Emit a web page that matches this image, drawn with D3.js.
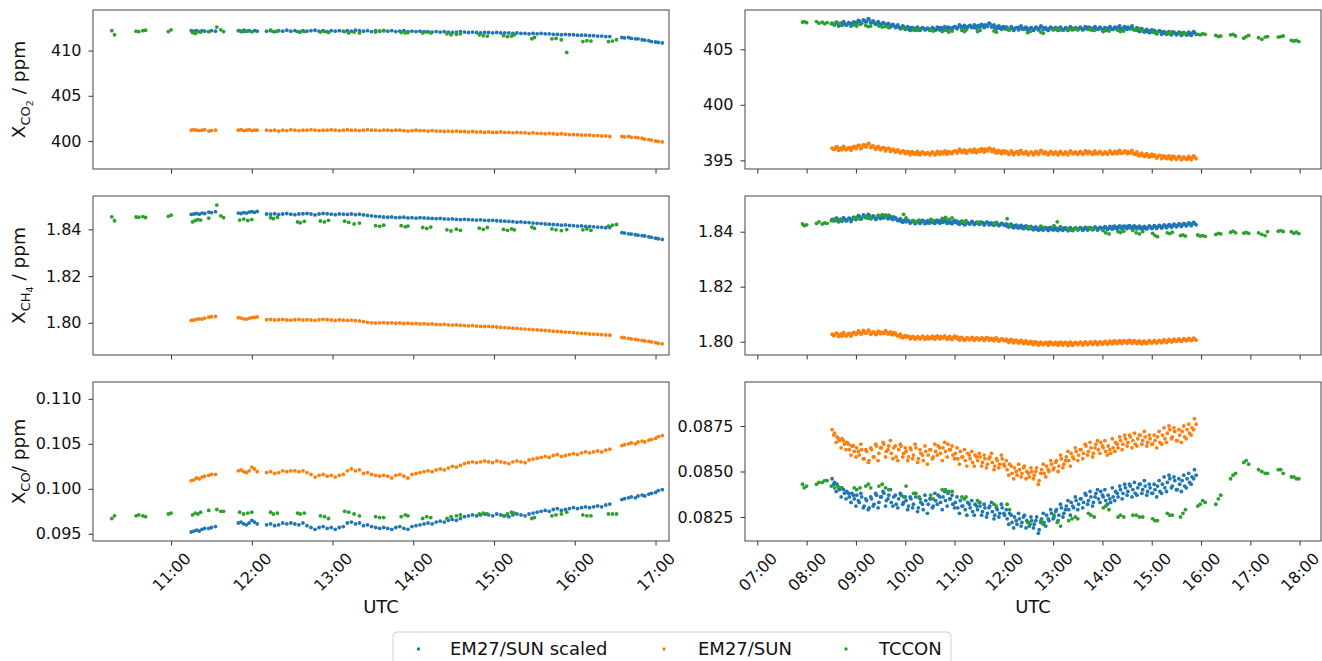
<!DOCTYPE html>
<html>
<head>
<meta charset="utf-8">
<script src="https://cdn.jsdelivr.net/npm/d3@7"></script>
<style>
  body { margin: 0; background: #fff; }
  svg { font-family: "DejaVu Sans", sans-serif; }
</style>
</head>
<body>
<svg id="chart" width="1322" height="661"></svg>
<script>
// ---------------------------------------------------------------------------
// DATA  (times are minutes after 00:00 UTC, gas values in ppm)
// ---------------------------------------------------------------------------
const legendLabels = ["EM27/SUN scaled", "EM27/SUN", "TCCON"];

// left day: EM27/SUN measurement times
const emTimesL = [
  675,677,679,681,683,685,688,690,693,
  710,712,714,716,718,720,722,724,
  731,734,737,740,743,746,749,752,755,758,
  761,764,767,770,773,776,779,782,785,788,
  791,794,797,800,803,806,809,812,815,818,
  821,824,827,830,833,836,839,842,845,848,
  851,854,857,860,863,866,869,872,875,878,
  881,884,887,890,893,896,899,902,905,908,
  911,914,917,920,923,926,929,932,935,938,
  941,944,947,950,953,956,959,962,965,968,
  971,974,977,980,983,986,
  995,997,1000,1002,1005,1007,1010,1012,1015,1017,1020,1022,1025
];
// left day: TCCON times
const tcTimesL = [
  616,618, 634,636,639,641, 658,660, 676,678,680,682, 688,694,697,699,
  711,714,717,720, 734,736,739, 754,756,759, 771,774,777, 789,792,796,800,
  812,815,818, 831,834,836, 847,850,853, 865,868,872,875, 889,892,895,
  907,910,913,915, 928,930, 943,946,950,954, 966,969,972, 985,988,991
];

const co2ScaledL = [
  412.2,412.15,412.2,412.1,412.2,412.15,412.1,412.2,412.15,
  412.2,412.1,412.25,412.15,412.2,412.1,412.2,412.15,
  412.15,412.2,412.1,412.2,412.15,412.25,412.15,412.2,412.1,412.2,
  412.15,412.2,412.25,412.15,412.2,412.1,412.2,412.15,412.2,412.15,
  412.2,412.15,412.25,412.2,412.15,412.2,412.1,412.2,412.15,412.2,
  412.15,412.2,412.1,412.15,412.2,412.1,412.15,412.1,412.15,412.1,
  412.1,412.05,412.1,412.05,412.1,412.05,412.0,412.05,412.1,412.05,
  412.0,412.05,412.0,411.95,412.0,412.0,411.95,412.0,411.95,411.95,
  411.95,411.9,411.95,411.9,411.9,411.85,411.9,411.85,411.9,411.85,
  411.85,411.8,411.8,411.75,411.8,411.75,411.75,411.7,411.7,411.7,
  411.65,411.65,411.6,411.6,411.55,411.55,
  411.45,411.4,411.45,411.35,411.3,411.3,411.2,411.15,411.1,411.0,410.95,410.9,410.85
];
const co2RawL = [
  401.2,401.25,401.2,401.15,401.2,401.25,401.1,401.15,401.2,
  401.2,401.25,401.15,401.2,401.25,401.15,401.2,401.2,
  401.2,401.15,401.2,401.1,401.2,401.15,401.25,401.2,401.15,401.2,
  401.2,401.25,401.2,401.15,401.2,401.2,401.25,401.2,401.15,401.2,
  401.25,401.2,401.2,401.15,401.2,401.25,401.2,401.2,401.15,401.2,
  401.2,401.15,401.2,401.2,401.15,401.1,401.15,401.2,401.15,401.15,
  401.1,401.15,401.1,401.1,401.05,401.1,401.05,401.1,401.05,401.05,
  401.0,401.05,401.0,401.0,400.95,401.0,400.95,400.95,401.0,400.95,
  400.95,400.9,400.95,400.9,400.9,400.85,400.9,400.85,400.85,400.8,
  400.85,400.8,400.75,400.8,400.75,400.7,400.7,400.7,400.65,400.65,
  400.65,400.6,400.6,400.55,400.55,400.5,
  400.5,400.45,400.5,400.4,400.4,400.35,400.3,400.2,400.15,400.1,400.0,399.95,399.9
];
const co2TcconL = [
  412.2,411.75, 412.15,412.1,412.2,412.25, 412.1,412.3, 412.0,411.9,412.1,412.05,
  412.1,412.6,412.3,412.1, 412.2,412.1,412.15,412.1, 412.25,412.1,412.15,
  412.1,412.05,412.1, 412.05,412.1,412.0, 412.1,411.95,412.05,411.95,
  412.05,412.15,412.2, 412.0,411.95,412.0, 411.95,412.05,411.95,
  411.85,411.75,411.8,411.85, 411.75,411.65,411.6, 411.65,411.55,411.6,411.75,
  411.3,411.45, 411.3,411.35,411.2,409.8, 411.0,411.1,411.05, 411.0,411.05,411.2
];

const ch4ScaledL = [
  1.8464,1.8466,1.8468,1.8465,1.8470,1.8468,1.8474,1.8472,1.8476,
  1.8470,1.8468,1.8472,1.8470,1.8474,1.8476,1.8473,1.8477,
  1.8466,1.8465,1.8467,1.8464,1.8466,1.8468,1.8465,1.8463,1.8466,1.8467,
  1.8468,1.8466,1.8462,1.8466,1.8468,1.8467,1.8465,1.8463,1.8466,1.8465,
  1.8464,1.8466,1.8463,1.8465,1.8462,1.8460,1.8458,1.8456,1.8455,1.8453,
  1.8452,1.8453,1.8450,1.8451,1.8452,1.8449,1.8450,1.8448,1.8450,1.8449,
  1.8448,1.8447,1.8446,1.8447,1.8445,1.8444,1.8445,1.8443,1.8442,1.8443,
  1.8442,1.8441,1.8440,1.8441,1.8439,1.8438,1.8439,1.8437,1.8436,1.8435,
  1.8434,1.8433,1.8431,1.8432,1.8430,1.8429,1.8427,1.8426,1.8425,1.8423,
  1.8422,1.8421,1.8420,1.8418,1.8419,1.8417,1.8416,1.8414,1.8415,1.8413,
  1.8412,1.8411,1.8410,1.8409,1.8407,1.8408,
  1.8386,1.8384,1.8381,1.8380,1.8377,1.8375,1.8373,1.8372,1.8368,1.8366,1.8362,1.8360,1.8357
];
const ch4RawL = [
  1.8010,1.8012,1.8015,1.8017,1.8016,1.8020,1.8024,1.8026,1.8027,
  1.8022,1.8020,1.8017,1.8016,1.8019,1.8022,1.8023,1.8025,
  1.8013,1.8014,1.8012,1.8013,1.8014,1.8012,1.8011,1.8013,1.8014,1.8012,
  1.8013,1.8012,1.8010,1.8013,1.8015,1.8013,1.8012,1.8010,1.8013,1.8011,
  1.8010,1.8011,1.8009,1.8008,1.8005,1.8002,1.8000,1.7999,1.8000,1.8001,
  1.7999,1.8000,1.7998,1.7999,1.7997,1.7998,1.7996,1.7997,1.7995,1.7996,
  1.7994,1.7995,1.7993,1.7992,1.7993,1.7991,1.7990,1.7991,1.7989,1.7988,
  1.7987,1.7988,1.7986,1.7985,1.7984,1.7985,1.7983,1.7982,1.7980,1.7979,
  1.7978,1.7977,1.7976,1.7974,1.7973,1.7972,1.7971,1.7970,1.7968,1.7967,
  1.7966,1.7964,1.7963,1.7962,1.7960,1.7959,1.7958,1.7956,1.7955,1.7954,
  1.7952,1.7951,1.7950,1.7949,1.7948,1.7947,
  1.7937,1.7935,1.7933,1.7931,1.7929,1.7927,1.7925,1.7922,1.7920,1.7918,1.7915,1.7912,1.7910
];
const ch4TcconL = [
  1.8454,1.8437, 1.8453,1.8452,1.8455,1.8451, 1.8456,1.8461, 1.8432,1.8438,1.8442,1.8440,
  1.8448,1.8504,1.8458,1.8450, 1.8440,1.8444,1.8438,1.8442, 1.8450,1.8446,1.8452,
  1.8432,1.8428,1.8434, 1.8436,1.8432,1.8439, 1.8435,1.8430,1.8423,1.8427,
  1.8416,1.8413,1.8418, 1.8416,1.8411,1.8414, 1.8408,1.8404,1.8410,
  1.8398,1.8393,1.8401,1.8396, 1.8405,1.8400,1.8408, 1.8400,1.8396,1.8402,1.8398,
  1.8410,1.8404, 1.8402,1.8398,1.8395,1.8399, 1.8398,1.8402,1.8396, 1.8414,1.8418,1.8421
];

const coScaledL = [
  0.0952,0.0953,0.0954,0.0953,0.0955,0.0956,0.0956,0.0957,0.0958,
  0.0962,0.0963,0.0961,0.0960,0.0962,0.0965,0.0963,0.0961,
  0.0960,0.0961,0.0959,0.0960,0.0962,0.0961,0.0962,0.0961,0.0960,0.0962,
  0.0959,0.0957,0.0955,0.0957,0.0958,0.0956,0.0957,0.0955,0.0957,0.0958,
  0.0962,0.0963,0.0961,0.0962,0.0959,0.0960,0.0958,0.0957,0.0956,0.0957,
  0.0956,0.0955,0.0957,0.0958,0.0956,0.0955,0.0958,0.0959,0.0960,0.0961,
  0.0962,0.0961,0.0963,0.0964,0.0963,0.0965,0.0966,0.0965,0.0967,0.0969,
  0.0970,0.0971,0.0970,0.0971,0.0972,0.0971,0.0970,0.0972,0.0971,0.0970,
  0.0969,0.0971,0.0972,0.0971,0.0970,0.0972,0.0973,0.0974,0.0975,0.0976,
  0.0975,0.0977,0.0978,0.0976,0.0977,0.0978,0.0979,0.0978,0.0979,0.0980,
  0.0979,0.0980,0.0981,0.0980,0.0982,0.0983,
  0.0988,0.0989,0.0990,0.0991,0.0990,0.0992,0.0993,0.0992,0.0994,0.0995,0.0996,0.0998,0.0999
];
const coRawL = [
  0.1009,0.1010,0.1012,0.1011,0.1013,0.1014,0.1015,0.1016,0.1016,
  0.1020,0.1021,0.1019,0.1018,0.1020,0.1024,0.1022,0.1019,
  0.1018,0.1019,0.1017,0.1018,0.1020,0.1019,0.1020,0.1020,0.1019,0.1020,
  0.1018,0.1016,0.1013,0.1015,0.1016,0.1014,0.1015,0.1013,0.1015,0.1016,
  0.1020,0.1022,0.1020,0.1021,0.1017,0.1018,0.1016,0.1015,0.1014,0.1015,
  0.1014,0.1012,0.1015,0.1016,0.1014,0.1012,0.1016,0.1017,0.1018,0.1019,
  0.1020,0.1019,0.1021,0.1022,0.1021,0.1023,0.1025,0.1024,0.1026,0.1028,
  0.1029,0.1030,0.1029,0.1030,0.1031,0.1030,0.1029,0.1031,0.1030,0.1029,
  0.1028,0.1030,0.1031,0.1030,0.1029,0.1032,0.1033,0.1034,0.1035,0.1036,
  0.1035,0.1037,0.1038,0.1036,0.1037,0.1038,0.1039,0.1038,0.1040,0.1041,
  0.1040,0.1041,0.1042,0.1041,0.1043,0.1044,
  0.1048,0.1049,0.1050,0.1051,0.1050,0.1052,0.1053,0.1052,0.1054,0.1055,0.1056,0.1058,0.1059
];
const coTcconL = [
  0.0967,0.0970, 0.0970,0.0971,0.0970,0.0969, 0.0972,0.0973, 0.0971,0.0973,0.0972,0.0974,
  0.0976,0.0977,0.0975,0.0975, 0.0974,0.0972,0.0973,0.0974, 0.0974,0.0972,0.0973,
  0.0973,0.0972,0.0973, 0.0970,0.0969,0.0967, 0.0975,0.0974,0.0972,0.0970,
  0.0969,0.0968,0.0968, 0.0969,0.0971,0.0970, 0.0967,0.0969,0.0968,
  0.0967,0.0969,0.0970,0.0971, 0.0972,0.0973,0.0972, 0.0970,0.0972,0.0974,0.0973,
  0.0967,0.0968, 0.0970,0.0971,0.0972,0.0974, 0.0971,0.0970,0.0970, 0.0972,0.0972,0.0972
];

// right day: EM27/SUN measurement times (two interleaved passes)
const emTimesR = [
  511,514,517,520,523,526,529,532,535,538,
  541,544,547,550,553,556,559,562,565,568,
  571,574,577,580,583,586,589,592,595,598,
  601,604,607,610,613,616,619,622,625,628,
  631,634,637,640,643,646,649,652,655,658,
  661,664,667,670,673,676,679,682,685,688,
  691,694,697,700,703,706,709,712,715,718,
  721,724,727,730,733,736,739,742,745,748,
  751,754,757,760,763,766,769,772,775,778,
  781,784,787,790,793,796,799,802,805,808,
  811,814,817,820,823,826,829,832,835,838,
  841,844,847,850,853,856,859,862,865,868,
  871,874,877,880,883,886,889,892,895,898,
  901,904,907,910,913,916,919,922,925,928,
  931,934,937,940,943,946,949,952
];
const emTimesR2 = [
  513,516,519,522,525,528,531,534,537,540,
  543,546,549,552,555,558,561,564,567,570,
  573,576,579,582,585,588,591,594,597,600,
  603,606,609,612,615,618,621,624,627,630,
  633,636,639,642,645,648,651,654,657,660,
  663,666,669,672,675,678,681,684,687,690,
  693,696,699,702,705,708,711,714,717,720,
  723,726,729,732,735,738,741,744,747,750,
  753,756,759,762,765,768,771,774,777,780,
  783,786,789,792,795,798,801,804,807,810,
  813,816,819,822,825,828,831,834,837,840,
  843,846,849,852,855,858,861,864,867,870,
  873,876,879,882,885,888,891,894,897,900,
  903,906,909,912,915,918,921,924,927,930,
  933,936,939,942,945,948,951,954
];
// right day: TCCON times
const tcTimesR = [
  475,477,480, 492,495,499,502,505, 510,514,518,522, 538,541,545, 552,555,558,
  568,572,576,580, 598,601, 610,613,617, 631,634, 645,649,653,657, 669,672,674,
  688,691, 708,711, 724,727, 749,752, 765,768, 781,785,789, 799,803,807,810,
  823,826,830, 841,844,848, 859,862,866, 877,881,885,889, 901,904,907,
  919,922,925, 935,938,941, 956,959,962,965, 978,981,984, 996,999,1002,
  1012,1015,1018, 1030,1034,1038,1041, 1054,1057,1060, 1070,1073,1076,1079
];

const co2ScaledR = [
  407.35,407.2,407.4,407.25,407.15,407.3,407.2,407.35,407.3,407.45,
  407.4,407.55,407.35,407.6,407.5,407.7,407.45,407.4,407.3,407.35,
  407.25,407.35,407.2,407.3,407.1,407.15,407.05,407.0,406.95,407.05,
  406.9,406.85,406.95,406.8,406.9,406.75,406.85,406.9,406.8,406.85,
  406.8,406.9,406.75,406.85,406.95,406.8,406.9,407.0,406.85,406.95,
  407.05,406.95,407.1,407.0,406.9,407.05,407.15,407.0,406.95,407.1,
  407.0,407.1,407.2,407.05,407.3,407.1,406.95,407.05,406.9,407.0,
  406.85,406.95,406.8,406.9,406.85,406.95,407.0,406.85,406.9,406.8,
  406.85,406.9,406.8,406.95,406.85,407.05,406.9,406.8,406.85,406.9,
  406.85,406.8,406.9,406.85,406.75,406.9,406.85,406.95,406.8,406.9,
  406.85,406.9,406.8,406.95,407.0,406.85,406.9,406.8,406.85,406.9,
  406.8,406.9,406.85,406.95,406.8,406.9,407.0,406.85,406.9,406.95,
  407.0,406.9,406.85,406.8,406.7,406.75,406.65,406.7,406.6,406.65,
  406.55,406.6,406.5,406.65,406.55,406.45,406.5,406.4,406.55,406.45,
  406.4,406.5,406.35,406.45,406.3,406.4,406.45,406.5
];
const co2ScaledR2 = [
  407.25,407.45,407.1,407.35,407.5,407.2,407.4,407.1,407.45,407.3,
  407.6,407.3,407.65,407.45,407.75,407.4,407.55,407.25,407.5,407.2,
  407.4,407.1,407.3,407.0,407.25,406.95,407.2,406.85,407.1,406.8,
  407.05,406.7,406.95,406.75,407.0,406.7,406.95,406.75,406.9,406.7,
  406.95,406.7,407.0,406.75,406.9,407.05,406.75,406.95,406.8,407.05,
  406.85,407.2,406.9,407.15,406.85,407.1,406.95,407.2,406.9,407.15,
  407.25,406.95,407.15,407.35,407.0,407.2,406.85,407.1,406.8,407.05,
  407.0,406.75,407.05,406.7,406.95,406.75,407.1,406.8,407.0,406.7,
  406.95,406.7,407.0,406.75,407.1,406.8,406.95,406.7,407.0,406.75,
  406.95,406.7,407.0,406.75,406.95,406.7,407.05,406.8,406.95,406.75,
  407.0,406.75,407.05,406.8,406.95,406.75,407.05,406.8,407.0,406.75,
  406.95,406.75,407.05,406.8,407.0,406.8,407.1,406.85,407.05,406.8,
  406.85,407.1,406.75,406.95,406.6,406.85,406.55,406.8,406.5,406.75,
  406.7,406.4,406.65,406.35,406.6,406.35,406.6,406.3,406.55,406.3,
  406.55,406.25,406.5,406.3,406.55,406.25,406.6,406.35
];
const co2RawR = [
  396.1,396.0,396.2,396.05,395.95,396.1,396.0,396.15,396.1,396.25,
  396.2,396.35,396.15,396.4,396.3,396.5,396.25,396.2,396.1,396.15,
  396.05,396.15,396.0,396.1,395.9,395.95,395.85,395.8,395.75,395.85,
  395.7,395.65,395.75,395.6,395.7,395.55,395.65,395.7,395.6,395.65,
  395.6,395.7,395.55,395.65,395.75,395.6,395.7,395.8,395.65,395.75,
  395.85,395.75,395.9,395.8,395.7,395.85,395.95,395.8,395.75,395.9,
  395.8,395.9,396.0,395.85,396.05,395.9,395.75,395.85,395.7,395.8,
  395.65,395.75,395.6,395.7,395.65,395.75,395.8,395.65,395.7,395.6,
  395.65,395.7,395.6,395.75,395.65,395.85,395.7,395.6,395.65,395.7,
  395.65,395.6,395.7,395.65,395.55,395.7,395.65,395.75,395.6,395.7,
  395.65,395.7,395.6,395.75,395.8,395.65,395.7,395.6,395.65,395.7,
  395.6,395.7,395.65,395.75,395.6,395.7,395.8,395.65,395.7,395.75,
  395.8,395.7,395.65,395.6,395.5,395.55,395.45,395.5,395.4,395.45,
  395.35,395.4,395.3,395.45,395.35,395.25,395.3,395.2,395.35,395.25,
  395.2,395.3,395.15,395.25,395.1,395.2,395.25,395.3
];
const co2RawR2 = [
  396.0,396.2,395.9,396.1,396.25,395.95,396.15,395.9,396.2,396.05,
  396.35,396.05,396.4,396.2,396.5,396.15,396.3,396.0,396.25,395.95,
  396.15,395.85,396.05,395.8,396.0,395.75,395.95,395.65,395.85,395.6,
  395.8,395.5,395.75,395.55,395.8,395.5,395.75,395.55,395.7,395.5,
  395.75,395.5,395.8,395.55,395.7,395.85,395.55,395.75,395.6,395.85,
  395.65,396.0,395.7,395.95,395.65,395.9,395.75,396.0,395.7,395.95,
  396.05,395.75,395.95,396.1,395.8,396.0,395.65,395.9,395.6,395.85,
  395.8,395.55,395.85,395.5,395.75,395.55,395.9,395.6,395.8,395.5,
  395.75,395.5,395.8,395.55,395.9,395.6,395.75,395.5,395.8,395.55,
  395.75,395.5,395.8,395.55,395.75,395.5,395.85,395.6,395.75,395.55,
  395.8,395.55,395.85,395.6,395.75,395.55,395.85,395.6,395.8,395.55,
  395.75,395.55,395.85,395.6,395.8,395.6,395.9,395.65,395.85,395.6,
  395.65,395.9,395.55,395.75,395.4,395.65,395.35,395.6,395.3,395.55,
  395.5,395.2,395.45,395.15,395.4,395.15,395.4,395.1,395.35,395.1,
  395.35,395.05,395.3,395.1,395.35,395.05,395.4,395.15
];
const co2TcconR = [
  407.45,407.5,407.4, 407.5,407.35,407.45,407.3,407.4, 407.3,407.2,407.35,407.25,
  407.2,407.1,407.25, 407.15,407.05,407.1, 407.1,407.0,407.05,406.95, 406.9,406.8,
  406.75,406.7,406.8, 406.75,406.65, 406.6,406.7,406.55,406.65, 406.7,406.6,406.75,
  406.6,406.7, 406.65,406.55, 406.8,406.75, 406.5,406.6, 406.55,406.45,
  406.8,406.85,406.75, 406.8,406.75,406.85,406.8, 406.8,406.75,406.7,
  406.6,406.7,406.65, 406.7,406.6,406.65, 406.8,406.75,406.85,406.7, 406.55,406.5,406.6,
  406.5,406.45,406.55, 406.45,406.5,406.4, 406.35,406.3,406.4,406.35, 406.25,406.15,406.2,
  406.3,406.35,406.2, 406.0,406.15,406.25, 406.05,405.9,406.1,406.15,
  406.1,406.15,406.2, 405.8,405.75,405.8,405.7
];

const ch4ScaledR = [
  1.8445,1.8440,1.8448,1.8442,1.8438,1.8446,1.8441,1.8449,1.8445,1.8452,
  1.8450,1.8456,1.8448,1.8458,1.8452,1.8460,1.8450,1.8455,1.8447,1.8453,
  1.8456,1.8450,1.8458,1.8452,1.8448,1.8454,1.8446,1.8442,1.8438,1.8440,
  1.8436,1.8440,1.8434,1.8438,1.8432,1.8437,1.8433,1.8439,1.8435,1.8431,
  1.8437,1.8433,1.8439,1.8435,1.8440,1.8434,1.8438,1.8436,1.8432,1.8436,
  1.8434,1.8430,1.8436,1.8431,1.8427,1.8433,1.8429,1.8435,1.8430,1.8432,
  1.8428,1.8433,1.8429,1.8434,1.8430,1.8426,1.8431,1.8427,1.8425,1.8429,
  1.8424,1.8420,1.8425,1.8418,1.8422,1.8416,1.8420,1.8414,1.8418,1.8413,
  1.8416,1.8411,1.8415,1.8409,1.8413,1.8408,1.8412,1.8410,1.8414,1.8409,
  1.8411,1.8407,1.8412,1.8408,1.8413,1.8409,1.8411,1.8406,1.8410,1.8412,
  1.8409,1.8413,1.8408,1.8412,1.8410,1.8414,1.8409,1.8413,1.8411,1.8415,
  1.8412,1.8416,1.8411,1.8415,1.8418,1.8413,1.8417,1.8414,1.8419,1.8416,
  1.8420,1.8415,1.8418,1.8414,1.8417,1.8413,1.8416,1.8412,1.8415,1.8418,
  1.8414,1.8419,1.8416,1.8421,1.8417,1.8422,1.8419,1.8424,1.8420,1.8425,
  1.8422,1.8427,1.8424,1.8428,1.8425,1.8430,1.8427,1.8431
];
const ch4ScaledR2 = [
  1.8440,1.8449,1.8436,1.8446,1.8451,1.8439,1.8448,1.8437,1.8452,1.8444,
  1.8458,1.8446,1.8461,1.8451,1.8463,1.8447,1.8457,1.8445,1.8459,1.8448,
  1.8452,1.8460,1.8447,1.8456,1.8444,1.8451,1.8440,1.8447,1.8434,1.8443,
  1.8441,1.8431,1.8440,1.8429,1.8438,1.8430,1.8441,1.8429,1.8440,1.8432,
  1.8441,1.8430,1.8442,1.8431,1.8436,1.8443,1.8430,1.8440,1.8429,1.8441,
  1.8438,1.8427,1.8437,1.8425,1.8434,1.8428,1.8437,1.8426,1.8435,1.8427,
  1.8434,1.8424,1.8435,1.8425,1.8432,1.8423,1.8434,1.8422,1.8430,1.8424,
  1.8428,1.8417,1.8427,1.8414,1.8424,1.8413,1.8423,1.8411,1.8421,1.8410,
  1.8419,1.8407,1.8417,1.8405,1.8416,1.8406,1.8415,1.8404,1.8416,1.8406,
  1.8414,1.8404,1.8415,1.8405,1.8414,1.8403,1.8415,1.8404,1.8414,1.8406,
  1.8415,1.8405,1.8416,1.8406,1.8415,1.8407,1.8417,1.8406,1.8416,1.8408,
  1.8418,1.8408,1.8419,1.8409,1.8420,1.8410,1.8421,1.8410,1.8420,1.8411,
  1.8422,1.8411,1.8421,1.8410,1.8420,1.8409,1.8419,1.8410,1.8421,1.8412,
  1.8422,1.8412,1.8423,1.8413,1.8425,1.8414,1.8426,1.8416,1.8427,1.8418,
  1.8428,1.8419,1.8430,1.8421,1.8432,1.8422,1.8434,1.8425
];
const ch4RawR = [
  1.8027,1.8024,1.8030,1.8022,1.8020,1.8026,1.8023,1.8029,1.8027,1.8032,
  1.8030,1.8035,1.8029,1.8037,1.8032,1.8039,1.8031,1.8034,1.8028,1.8033,
  1.8035,1.8030,1.8036,1.8031,1.8027,1.8033,1.8025,1.8021,1.8017,1.8019,
  1.8016,1.8019,1.8014,1.8017,1.8012,1.8016,1.8013,1.8018,1.8014,1.8011,
  1.8016,1.8012,1.8017,1.8014,1.8018,1.8013,1.8016,1.8015,1.8011,1.8015,
  1.8014,1.8010,1.8015,1.8011,1.8008,1.8013,1.8009,1.8014,1.8010,1.8012,
  1.8009,1.8013,1.8010,1.8014,1.8011,1.8007,1.8012,1.8008,1.8006,1.8010,
  1.8006,1.8002,1.8006,1.8000,1.8004,1.7999,1.8002,1.7997,1.8000,1.7996,
  1.7998,1.7994,1.7998,1.7993,1.7996,1.7992,1.7995,1.7994,1.7997,1.7993,
  1.7995,1.7991,1.7996,1.7992,1.7996,1.7993,1.7995,1.7990,1.7994,1.7996,
  1.7993,1.7997,1.7992,1.7996,1.7994,1.7998,1.7993,1.7997,1.7995,1.7998,
  1.7995,1.7999,1.7994,1.7998,1.8001,1.7996,1.8000,1.7997,1.8002,1.7999,
  1.8003,1.7998,1.8001,1.7997,1.8000,1.7996,1.7999,1.7995,1.7998,1.8001,
  1.7997,1.8001,1.7998,1.8003,1.7999,1.8004,1.8001,1.8005,1.8002,1.8006,
  1.8003,1.8007,1.8004,1.8008,1.8005,1.8009,1.8006,1.8010
];
const ch4RawR2 = [
  1.8022,1.8031,1.8019,1.8028,1.8033,1.8021,1.8030,1.8020,1.8034,1.8026,
  1.8039,1.8028,1.8041,1.8031,1.8042,1.8027,1.8036,1.8026,1.8038,1.8029,
  1.8033,1.8040,1.8028,1.8036,1.8025,1.8031,1.8021,1.8027,1.8014,1.8022,
  1.8020,1.8010,1.8019,1.8009,1.8018,1.8010,1.8020,1.8009,1.8019,1.8011,
  1.8020,1.8009,1.8021,1.8010,1.8015,1.8021,1.8009,1.8019,1.8008,1.8020,
  1.8017,1.8006,1.8016,1.8005,1.8014,1.8007,1.8016,1.8005,1.8014,1.8006,
  1.8014,1.8004,1.8015,1.8005,1.8012,1.8003,1.8014,1.8002,1.8010,1.8004,
  1.8009,1.7998,1.8008,1.7996,1.8006,1.7995,1.8005,1.7993,1.8003,1.7992,
  1.8001,1.7989,1.7999,1.7988,1.7998,1.7989,1.7997,1.7987,1.7998,1.7989,
  1.7997,1.7987,1.7998,1.7988,1.7997,1.7986,1.7998,1.7987,1.7997,1.7989,
  1.7998,1.7988,1.7999,1.7989,1.7998,1.7990,1.8000,1.7989,1.7999,1.7991,
  1.8001,1.7991,1.8002,1.7992,1.8003,1.7993,1.8004,1.7993,1.8003,1.7994,
  1.8005,1.7994,1.8004,1.7993,1.8003,1.7992,1.8002,1.7993,1.8004,1.7995,
  1.8004,1.7995,1.8005,1.7996,1.8007,1.7997,1.8008,1.7999,1.8009,1.8001,
  1.8010,1.8001,1.8011,1.8003,1.8012,1.8004,1.8013,1.8006
];
const ch4TcconR = [
  1.8428,1.8422,1.8425, 1.8430,1.8436,1.8428,1.8432,1.8430, 1.8440,1.8446,1.8438,1.8443,
  1.8448,1.8452,1.8446, 1.8455,1.8449,1.8453, 1.8458,1.8462,1.8455,1.8460, 1.8463,1.8450,
  1.8440,1.8436,1.8442, 1.8445,1.8440, 1.8448,1.8452,1.8445,1.8450, 1.8438,1.8434,1.8440,
  1.8432,1.8436, 1.8428,1.8432, 1.8447,1.8425, 1.8418,1.8415, 1.8420,1.8416,
  1.8422,1.8436,1.8418, 1.8410,1.8406,1.8412,1.8408, 1.8415,1.8410,1.8412,
  1.8404,1.8396,1.8392, 1.8400,1.8397,1.8402, 1.8405,1.8396,1.8392,1.8400, 1.8394,1.8386,1.8382,
  1.8396,1.8393,1.8398, 1.8386,1.8388,1.8384, 1.8388,1.8384,1.8386,1.8383, 1.8390,1.8394,1.8392,
  1.8398,1.8402,1.8396, 1.8395,1.8397,1.8394, 1.8396,1.8390,1.8386,1.8400,
  1.8402,1.8404,1.8401, 1.8400,1.8394,1.8398,1.8393
];

const coScaledR = [
  0.0846,0.0844,0.0843,0.0840,0.0841,0.0838,0.0839,0.0836,0.0838,0.0835,
  0.0837,0.0833,0.0836,0.0831,0.0834,0.0830,0.0835,0.0832,0.0837,0.0833,
  0.0836,0.0838,0.0834,0.0837,0.0833,0.0836,0.0832,0.0835,0.0837,0.0833,
  0.0834,0.0831,0.0835,0.0832,0.0836,0.0830,0.0833,0.0829,0.0834,0.0832,
  0.0835,0.0831,0.0834,0.0837,0.0833,0.0836,0.0834,0.0838,0.0835,0.0832,
  0.0833,0.0830,0.0834,0.0831,0.0829,0.0833,0.0830,0.0828,0.0832,0.0829,
  0.0831,0.0828,0.0830,0.0827,0.0831,0.0828,0.0826,0.0829,0.0827,0.0830,
  0.0826,0.0824,0.0827,0.0822,0.0825,0.0821,0.0824,0.0822,0.0826,0.0823,
  0.0820,0.0823,0.0821,0.0825,0.0818,0.0824,0.0822,0.0826,0.0823,0.0827,
  0.0825,0.0829,0.0826,0.0830,0.0827,0.0831,0.0829,0.0833,0.0830,0.0834,
  0.0832,0.0835,0.0833,0.0837,0.0834,0.0836,0.0833,0.0838,0.0835,0.0839,
  0.0836,0.0834,0.0837,0.0833,0.0836,0.0839,0.0836,0.0840,0.0838,0.0841,
  0.0839,0.0842,0.0840,0.0838,0.0841,0.0843,0.0840,0.0842,0.0839,0.0841,
  0.0838,0.0840,0.0842,0.0839,0.0843,0.0841,0.0844,0.0846,0.0842,0.0845,
  0.0840,0.0843,0.0845,0.0842,0.0846,0.0844,0.0847,0.0851
];
const coScaledR2 = [
  0.0843,0.0839,0.0841,0.0836,0.0840,0.0835,0.0838,0.0833,0.0837,0.0831,
  0.0834,0.0838,0.0830,0.0835,0.0829,0.0836,0.0831,0.0838,0.0830,0.0836,
  0.0839,0.0831,0.0835,0.0840,0.0831,0.0837,0.0830,0.0838,0.0832,0.0836,
  0.0829,0.0836,0.0830,0.0838,0.0828,0.0835,0.0832,0.0837,0.0827,0.0835,
  0.0830,0.0838,0.0832,0.0836,0.0829,0.0839,0.0831,0.0835,0.0837,0.0830,
  0.0836,0.0827,0.0831,0.0835,0.0826,0.0832,0.0834,0.0826,0.0831,0.0833,
  0.0826,0.0832,0.0825,0.0830,0.0833,0.0824,0.0830,0.0825,0.0832,0.0827,
  0.0829,0.0821,0.0826,0.0819,0.0823,0.0827,0.0820,0.0825,0.0819,0.0822,
  0.0825,0.0819,0.0823,0.0816,0.0822,0.0827,0.0820,0.0824,0.0829,0.0824,
  0.0828,0.0823,0.0832,0.0825,0.0829,0.0834,0.0826,0.0831,0.0836,0.0829,
  0.0835,0.0830,0.0838,0.0832,0.0839,0.0831,0.0836,0.0840,0.0833,0.0837,
  0.0840,0.0832,0.0835,0.0841,0.0834,0.0838,0.0842,0.0835,0.0843,0.0837,
  0.0843,0.0836,0.0844,0.0837,0.0843,0.0838,0.0845,0.0837,0.0843,0.0838,
  0.0843,0.0836,0.0845,0.0838,0.0847,0.0839,0.0848,0.0841,0.0847,0.0840,
  0.0846,0.0839,0.0848,0.0841,0.0849,0.0843,0.0846,0.0848
];
const coRawR = [
  0.0873,0.0871,0.0869,0.0867,0.0868,0.0865,0.0866,0.0862,0.0864,0.0861,
  0.0863,0.0859,0.0862,0.0857,0.0861,0.0856,0.0862,0.0858,0.0864,0.0860,
  0.0863,0.0865,0.0861,0.0864,0.0860,0.0863,0.0858,0.0862,0.0864,0.0860,
  0.0861,0.0858,0.0862,0.0859,0.0863,0.0857,0.0860,0.0856,0.0861,0.0859,
  0.0862,0.0858,0.0861,0.0864,0.0860,0.0863,0.0861,0.0865,0.0862,0.0859,
  0.0860,0.0857,0.0861,0.0858,0.0856,0.0860,0.0857,0.0855,0.0859,0.0856,
  0.0858,0.0855,0.0857,0.0854,0.0858,0.0855,0.0853,0.0856,0.0854,0.0857,
  0.0853,0.0851,0.0854,0.0849,0.0852,0.0848,0.0851,0.0849,0.0853,0.0850,
  0.0847,0.0850,0.0848,0.0852,0.0845,0.0851,0.0849,0.0853,0.0850,0.0854,
  0.0852,0.0856,0.0853,0.0857,0.0854,0.0858,0.0856,0.0860,0.0857,0.0861,
  0.0859,0.0862,0.0860,0.0864,0.0861,0.0863,0.0860,0.0865,0.0862,0.0866,
  0.0863,0.0861,0.0864,0.0860,0.0863,0.0866,0.0863,0.0867,0.0865,0.0868,
  0.0866,0.0869,0.0867,0.0865,0.0868,0.0870,0.0867,0.0869,0.0866,0.0868,
  0.0865,0.0867,0.0869,0.0866,0.0870,0.0868,0.0871,0.0873,0.0869,0.0872,
  0.0867,0.0870,0.0872,0.0869,0.0873,0.0871,0.0874,0.0879
];
const coRawR2 = [
  0.0870,0.0866,0.0868,0.0863,0.0867,0.0862,0.0865,0.0859,0.0864,0.0858,
  0.0861,0.0865,0.0857,0.0862,0.0855,0.0863,0.0858,0.0865,0.0856,0.0863,
  0.0866,0.0858,0.0862,0.0867,0.0857,0.0864,0.0856,0.0865,0.0858,0.0863,
  0.0856,0.0863,0.0857,0.0865,0.0855,0.0862,0.0859,0.0864,0.0854,0.0862,
  0.0857,0.0865,0.0859,0.0863,0.0856,0.0866,0.0858,0.0862,0.0864,0.0857,
  0.0863,0.0854,0.0858,0.0862,0.0853,0.0859,0.0861,0.0853,0.0858,0.0860,
  0.0853,0.0859,0.0852,0.0857,0.0860,0.0851,0.0857,0.0852,0.0859,0.0854,
  0.0856,0.0848,0.0853,0.0846,0.0850,0.0854,0.0847,0.0852,0.0846,0.0849,
  0.0852,0.0846,0.0850,0.0843,0.0849,0.0854,0.0847,0.0851,0.0856,0.0851,
  0.0855,0.0850,0.0859,0.0852,0.0856,0.0861,0.0853,0.0858,0.0863,0.0856,
  0.0862,0.0857,0.0865,0.0859,0.0866,0.0858,0.0863,0.0867,0.0860,0.0864,
  0.0867,0.0859,0.0862,0.0868,0.0861,0.0865,0.0869,0.0862,0.0870,0.0864,
  0.0870,0.0863,0.0871,0.0864,0.0870,0.0865,0.0872,0.0864,0.0870,0.0865,
  0.0870,0.0863,0.0872,0.0865,0.0874,0.0866,0.0875,0.0868,0.0874,0.0867,
  0.0873,0.0866,0.0875,0.0868,0.0876,0.0870,0.0873,0.0876
];
const coTcconR = [
  0.0843,0.0841,0.0842, 0.0843,0.0844,0.0844,0.0845,0.0845, 0.0842,0.0841,0.0842,0.0841,
  0.0841,0.0840,0.0841, 0.0842,0.0843,0.0841, 0.0842,0.0843,0.0841,0.0840, 0.0836,0.0842,
  0.0838,0.0838,0.0836, 0.0837,0.0835, 0.0840,0.0840,0.0839,0.0839, 0.0836,0.0835,0.0836,
  0.0834,0.0833, 0.0832,0.0831, 0.0832,0.0829, 0.0822,0.0821, 0.0823,0.0821,
  0.0826,0.0822,0.0820, 0.0823,0.0824,0.0825,0.0824, 0.0827,0.0826,0.0825,
  0.0830,0.0831,0.0829, 0.0825,0.0826,0.0825, 0.0826,0.0826,0.0825,0.0825, 0.0824,0.0823,0.0823,
  0.0827,0.0826,0.0826, 0.0825,0.0827,0.0829, 0.0831,0.0832,0.0834,0.0833, 0.0832,0.0835,0.0837,
  0.0846,0.0848,0.0849, 0.0855,0.0856,0.0854, 0.0851,0.0850,0.0849,0.0849,
  0.0851,0.0851,0.0849, 0.0847,0.0847,0.0846,0.0846
];

// ---------------------------------------------------------------------------
// LAYOUT
// ---------------------------------------------------------------------------
const panelW = 576, panelH = 159;
const rowTop = [10, 196, 382];
const colLeft = [93, 745];
const colors = ["#1f77b4", "#ff7f0e", "#2ca02c"];
const tickFont = "16px", labelFont = "18px", ylabelFont = "18.5px", legendFont = "18px";

const toDate = m => new Date(Date.UTC(2000, 0, 1, 0, m));

const xDomains = [[602.75, 1030.95], [405.76, 1106.8]];

// each layer: [times, values, colour index]
const panels = [
    { col: 0, row: 0, yDomain: [396.9, 414.49], yTicks: [400, 405, 410], fmt: "d",
      layers: [[emTimesL, co2ScaledL, 0], [emTimesL, co2RawL, 1], [tcTimesL, co2TcconL, 2]] },
    { col: 1, row: 0, yDomain: [394.22, 408.54], yTicks: [395, 400, 405], fmt: "d",
      layers: [[emTimesR, co2ScaledR, 0], [emTimesR2, co2ScaledR2, 0],
               [emTimesR, co2RawR, 1], [emTimesR2, co2RawR2, 1], [tcTimesR, co2TcconR, 2]] },
    { col: 0, row: 1, yDomain: [1.7862, 1.8543], yTicks: [1.80, 1.82, 1.84], fmt: ".2f",
      layers: [[emTimesL, ch4ScaledL, 0], [emTimesL, ch4RawL, 1], [tcTimesL, ch4TcconL, 2]] },
    { col: 1, row: 1, yDomain: [1.79516, 1.85298], yTicks: [1.80, 1.82, 1.84], fmt: ".2f",
      layers: [[emTimesR, ch4ScaledR, 0], [emTimesR2, ch4ScaledR2, 0],
               [emTimesR, ch4RawR, 1], [emTimesR2, ch4RawR2, 1], [tcTimesR, ch4TcconR, 2]] },
    { col: 0, row: 2, yDomain: [0.0942, 0.11187], yTicks: [0.095, 0.100, 0.105, 0.110], fmt: ".3f",
      layers: [[emTimesL, coScaledL, 0], [emTimesL, coRawL, 1], [tcTimesL, coTcconL, 2]] },
    { col: 1, row: 2, yDomain: [0.081181, 0.089917], yTicks: [0.0825, 0.0850, 0.0875], fmt: ".4f",
      layers: [[emTimesR, coScaledR, 0], [emTimesR2, coScaledR2, 0],
               [emTimesR, coRawR, 1], [emTimesR2, coRawR2, 1], [tcTimesR, coTcconR, 2]] }
];

// y-axis labels for the left column: [main, subscript, sub-subscript, tail]
const yLabels = [
    ["X", "CO", "2", " / ppm"],
    ["X", "CH", "4", " / ppm"],
    ["X", "CO", "",  "/ ppm"]
];

const svg = d3.select("#chart");

// ---------------------------------------------------------------------------
// PANELS
// ---------------------------------------------------------------------------
panels.forEach((p, i) => {
    const left = colLeft[p.col];
    const top = rowTop[p.row];

    const x = d3.scaleUtc().domain(xDomains[p.col].map(toDate)).range([0, panelW]);
    const y = d3.scaleLinear().domain(p.yDomain).range([panelH, 0]);

    const g = svg.append("g").attr("transform", `translate(${left},${top})`);

    g.append("clipPath").attr("id", `clip${i}`)
        .append("rect").attr("width", panelW).attr("height", panelH);

    const plot = g.append("g").attr("clip-path", `url(#clip${i})`);

    p.layers.forEach(([times, vals, c]) => {
        const pts = times.map((t, k) => ({ t: toDate(t), v: vals[k] }))
            .filter(d => d.v !== undefined);
        plot.append("g")
            .selectAll("circle")
            .data(pts)
            .join("circle")
            .attr("cx", d => x(d.t))
            .attr("cy", d => y(d.v))
            .attr("r", 1.9)
            .attr("fill", colors[c]);
    });

    // x axis
    const xAxis = d3.axisBottom(x)
        .ticks(d3.utcHour.every(1))
        .tickSize(4.5)
        .tickFormat(p.row === 2 ? d3.utcFormat("%H:%M") : "");
    const gx = g.append("g")
        .attr("transform", `translate(0,${panelH})`)
        .call(xAxis);
    gx.select(".domain").remove();
    gx.selectAll(".tick line").attr("stroke", "#333");
    gx.selectAll(".tick text")
        .attr("fill", "#111")
        .style("font-size", tickFont)
        .style("font-family", "DejaVu Sans")
        .attr("text-anchor", "middle")
        .attr("y", 0)
        .attr("dy", "0.35em")
        .attr("transform", "translate(0,31) rotate(-45)");

    // y axis
    const yAxis = d3.axisLeft(y)
        .tickValues(p.yTicks)
        .tickFormat(d3.format(p.fmt))
        .tickSize(4.5)
        .tickPadding(7);
    const gy = g.append("g").call(yAxis);
    gy.select(".domain").remove();
    gy.selectAll(".tick line").attr("stroke", "#333");
    gy.selectAll(".tick text")
        .attr("fill", "#111")
        .style("font-size", tickFont)
        .style("font-family", "DejaVu Sans");

    // frame
    g.append("rect")
        .attr("width", panelW).attr("height", panelH)
        .attr("fill", "none")
        .attr("stroke", "#444")
        .attr("stroke-width", 1);

    // y label (left column only)
    if (p.col === 0) {
        const [main, sub, subsub, tail] = yLabels[p.row];
        const lab = svg.append("text")
            .attr("transform", `translate(25,${top + panelH / 2}) rotate(-90)`)
            .attr("text-anchor", "middle")
            .attr("fill", "#111")
            .style("font-size", ylabelFont);
        lab.append("tspan").text(main);
        lab.append("tspan").attr("dy", 5).style("font-size", "13px").text(sub);
        if (subsub) lab.append("tspan").attr("dy", 3).style("font-size", "9.5px").text(subsub);
        lab.append("tspan").attr("dy", subsub ? -8 : -5).style("font-size", ylabelFont).text(tail);
    }

    // x label (bottom row)
    if (p.row === 2) {
        svg.append("text")
            .attr("x", left + panelW / 2)
            .attr("y", top + panelH + 72)
            .attr("text-anchor", "middle")
            .attr("fill", "#111")
            .style("font-size", labelFont)
            .text("UTC");
    }
});

// ---------------------------------------------------------------------------
// LEGEND
// ---------------------------------------------------------------------------
const legendBox = { x: 393, y: 632, w: 558, h: 40 };
const legendMarkX = [418.5, 664, 846];
const legendTextX = [450, 698, 879];

const legend = svg.append("g");
legend.append("rect")
    .attr("x", legendBox.x).attr("y", legendBox.y)
    .attr("width", legendBox.w).attr("height", legendBox.h)
    .attr("rx", 4)
    .attr("fill", "#fff")
    .attr("stroke", "#d0d0d0");

legendLabels.forEach((name, i) => {
    legend.append("circle")
        .attr("cx", legendMarkX[i]).attr("cy", legendBox.y + 17)
        .attr("r", 1.7)
        .attr("fill", colors[i]);
    legend.append("text")
        .attr("x", legendTextX[i])
        .attr("y", legendBox.y + 23)
        .attr("fill", "#111")
        .style("font-size", legendFont)
        .text(name);
});
</script>
</body>
</html>
